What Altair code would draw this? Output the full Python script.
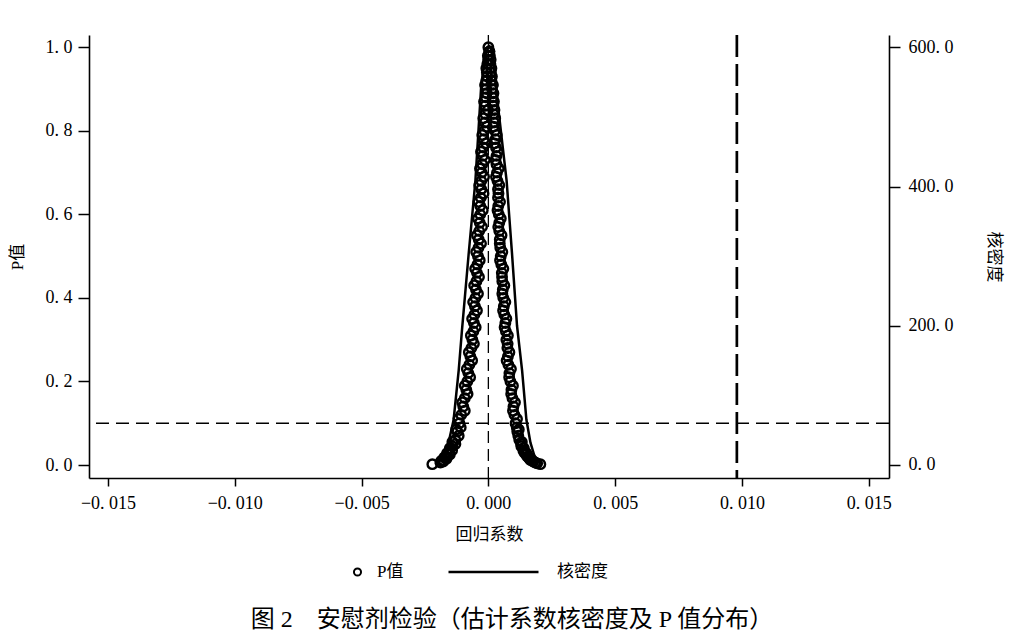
import altair as alt
import pandas as pd

# ---------------- data ----------------
# P-value scatter: left branch (coefficient < 0)
left_p = [1.00, 0.98, 0.96, 0.94, 0.92, 0.90, 0.88, 0.86, 0.84, 0.82, 0.80, 0.78, 0.76, 0.74,
          0.72, 0.70, 0.68, 0.66, 0.64, 0.62, 0.60, 0.58, 0.56, 0.54, 0.52, 0.50, 0.48, 0.46,
          0.44, 0.42, 0.40, 0.38, 0.36, 0.34, 0.32, 0.30, 0.28, 0.26, 0.24, 0.22, 0.20, 0.18,
          0.16, 0.14, 0.12, 0.10, 0.08, 0.06, 0.045, 0.03, 0.02, 0.012, 0.006, 0.002,
          0.97, 0.93, 0.89, 0.85, 0.81, 0.77, 0.73, 0.69, 0.65, 0.61, 0.57, 0.53, 0.49, 0.45,
          0.41, 0.37, 0.33, 0.29, 0.25, 0.21, 0.17, 0.13, 0.09, 0.07, 0.05, 0.035, 0.025,
          0.015, 0.008,
          0.95, 0.91, 0.87, 0.83, 0.79, 0.75, 0.71, 0.67, 0.63, 0.59, 0.55, 0.51, 0.47, 0.43,
          0.39, 0.35, 0.31, 0.27, 0.23, 0.19, 0.15, 0.11, 0.085, 0.055, 0.04, 0.028, 0.018,
          0.010]
left_coef = [0.0, -0.00002, -0.00004, -0.00006, -0.00008, -0.00008, -0.00010, -0.00012,
             -0.00012, -0.00014, -0.00016, -0.00018, -0.00020, -0.00022, -0.00024, -0.00026,
             -0.00028, -0.00028, -0.00030, -0.00032, -0.00032, -0.00034, -0.00036, -0.00038,
             -0.00039, -0.00041, -0.00043, -0.00045, -0.00047, -0.00049, -0.00051, -0.00053,
             -0.00055, -0.00057, -0.00059, -0.00063, -0.00067, -0.00071, -0.00075, -0.00079,
             -0.00083, -0.00087, -0.00093, -0.00099, -0.00107, -0.00114, -0.00122, -0.00130,
             -0.00142, -0.00154, -0.00166, -0.00178, -0.00189, -0.00221,
             -0.00001, -0.00004, -0.00007, -0.00002, -0.00006, -0.00009, -0.00014, -0.00017,
             -0.00019, -0.00022, -0.00025, -0.00029, -0.00034, -0.00037, -0.00041, -0.00045,
             -0.00050, -0.00057, -0.00064, -0.00072, -0.00082, -0.00093, -0.00109, -0.00117,
             -0.00130, -0.00143, -0.00152, -0.00165, -0.00178,
             -0.00008, -0.00013, -0.00017, -0.00020, -0.00024, -0.00029, -0.00033, -0.00036,
             -0.00039, -0.00041, -0.00045, -0.00048, -0.00052, -0.00056, -0.00060, -0.00064,
             -0.00069, -0.00077, -0.00085, -0.00093, -0.00103, -0.00118, -0.00127, -0.00142,
             -0.00152, -0.00163, -0.00174, -0.00186]

# P-value scatter: right branch (coefficient > 0)
right_p = [0.99, 0.98, 0.96, 0.94, 0.92, 0.90, 0.88, 0.86, 0.84, 0.82, 0.80, 0.78, 0.76, 0.74,
           0.72, 0.70, 0.68, 0.66, 0.64, 0.62, 0.60, 0.58, 0.56, 0.54, 0.52, 0.50, 0.48, 0.46,
           0.44, 0.42, 0.40, 0.38, 0.36, 0.34, 0.32, 0.30, 0.28, 0.26, 0.24, 0.22, 0.20, 0.18,
           0.16, 0.14, 0.12, 0.10, 0.08, 0.06, 0.045, 0.03, 0.02, 0.012, 0.006, 0.002,
           0.99, 0.97, 0.93, 0.89, 0.85, 0.81, 0.77, 0.73, 0.69, 0.65, 0.61, 0.57, 0.53, 0.49,
           0.45, 0.41, 0.37, 0.33, 0.29, 0.25, 0.21, 0.17, 0.13, 0.09, 0.07, 0.05, 0.035,
           0.025, 0.015, 0.008, 0.004,
           0.95, 0.91, 0.87, 0.83, 0.79, 0.75, 0.71, 0.67, 0.63, 0.59, 0.55, 0.51, 0.47, 0.43,
           0.39, 0.35, 0.31, 0.27, 0.23, 0.19, 0.15, 0.11, 0.085, 0.055, 0.04, 0.028, 0.018,
           0.010]
right_coef = [0.00004, 0.00006, 0.00008, 0.00010, 0.00012, 0.00014, 0.00016, 0.00018,
              0.00020, 0.00022, 0.00026, 0.00028, 0.00030, 0.00032, 0.00032, 0.00034,
              0.00036, 0.00038, 0.00038, 0.00039, 0.00041, 0.00043, 0.00043, 0.00045,
              0.00047, 0.00049, 0.00051, 0.00053, 0.00055, 0.00057, 0.00059, 0.00061,
              0.00063, 0.00067, 0.00069, 0.00071, 0.00075, 0.00077, 0.00079, 0.00083,
              0.00087, 0.00091, 0.00095, 0.00099, 0.00103, 0.00107, 0.00114, 0.00122,
              0.00130, 0.00142, 0.00154, 0.00166, 0.00185, 0.00205,
              0.00004, 0.00009, 0.00014, 0.00020, 0.00024, 0.00020, 0.00024, 0.00028,
              0.00030, 0.00040, 0.00036, 0.00039, 0.00045, 0.00046, 0.00054, 0.00055,
              0.00058, 0.00064, 0.00076, 0.00072, 0.00082, 0.00090, 0.00097, 0.00112,
              0.00118, 0.00129, 0.00138, 0.00149, 0.00162, 0.00177, 0.00192,
              0.00012, 0.00018, 0.00022, 0.00027, 0.00033, 0.00037, 0.00041, 0.00043,
              0.00046, 0.00049, 0.00052, 0.00055, 0.00059, 0.00063, 0.00067, 0.00071,
              0.00077, 0.00083, 0.00089, 0.00097, 0.00105, 0.00113, 0.00120, 0.00132,
              0.00140, 0.00150, 0.00160, 0.00175]

# kernel density of the placebo coefficients
kd_coef = [-0.00209, -0.00189, -0.00170, -0.00157, -0.00137, -0.00117, -0.00104, -0.00078,
           -0.00051, -0.00028, -0.00010, 0.00002, 0.00015, 0.00041, 0.00072, 0.00093,
           0.00113, 0.00133, 0.00150, 0.00166, 0.00180, 0.00192, 0.00215]
kd_density = [1.5, 10, 22, 32, 65, 136, 194, 302, 409, 546, 590, 602, 595, 506, 408, 305,
              200, 136, 65, 32, 15, 7, 1]

p_threshold = [0.1]
zero_coef = [0.0]
true_coef = [0.0098]

x_ticks = [-0.015, -0.010, -0.005, 0.0, 0.005, 0.010, 0.015]
p_ticks = [0.0, 0.2, 0.4, 0.6, 0.8, 1.0]
d_ticks = [0.0, 200.0, 400.0, 600.0]

# ---------------- tables ----------------
pts = pd.DataFrame({
    "coef": left_coef + right_coef,
    "p": left_p + right_p,
    "series": ["P值"] * (len(left_coef) + len(right_coef)),
})
kd = pd.DataFrame({"coef": kd_coef, "density": kd_density,
                   "series": ["核密度"] * len(kd_coef)})
hline = pd.DataFrame({"p": p_threshold})
vzero = pd.DataFrame({"coef": zero_coef})
vtrue = pd.DataFrame({"coef": true_coef})

FONT = "Liberation Serif, Noto Sans CJK SC"

x_scale = alt.Scale(domain=[-0.01575, 0.0158], nice=False, zero=False)
x_axis = alt.Axis(values=x_ticks, title="回归系数",
                  labelExpr="replace(format(datum.value, '.3f'), '.', '. ')",
                  tickSize=8, labelPadding=8, titlePadding=14)
x_enc = alt.X("coef:Q", scale=x_scale, axis=x_axis)

p_scale = alt.Scale(domain=[-0.0311, 1.0294], nice=False, zero=False)
p_axis = alt.Axis(values=p_ticks, title="P值", orient="left",
                  labelExpr="replace(format(datum.value, '.1f'), '.', '. ')",
                  tickSize=11, labelPadding=6, titleX=-72, titleBaseline="middle")
p_enc = alt.Y("p:Q", scale=p_scale, axis=p_axis)

d_scale = alt.Scale(domain=[-18.7, 617.7], nice=False, zero=False)
d_axis = alt.Axis(values=d_ticks, title="核密度", orient="right",
                  labelExpr="replace(format(datum.value, '.1f'), '.', '. ')",
                  tickSize=11, labelPadding=8, titleX=104, titleAngle=90,
                  titleBaseline="middle")

hrule = alt.Chart(hline).mark_rule(color="black", strokeWidth=1.3,
                                   strokeDash=[13, 7]).encode(y=p_enc)
vrule0 = alt.Chart(vzero).mark_rule(color="black", strokeWidth=1.3,
                                    strokeDash=[12, 6]).encode(x=x_enc)
vrule1 = alt.Chart(vtrue).mark_rule(color="black", strokeWidth=2.7,
                                    strokeDash=[22, 7]).encode(x=x_enc)

points = alt.Chart(pts).mark_point(filled=False, size=90, strokeWidth=2.4,
                                   color="black", opacity=1).encode(
    x=x_enc,
    y=p_enc,
    shape=alt.Shape("series:N",
                    scale=alt.Scale(domain=["P值"], range=["circle"]),
                    legend=alt.Legend(title=None, orient="none", legendX=260, legendY=527,
                                      padding=0, clipHeight=20, symbolSize=50,
                                      symbolStrokeWidth=2, symbolStrokeColor="black",
                                      symbolFillColor="white", labelFontSize=17,
                                      labelFont=FONT, labelOffset=11, labelColor="black")),
)

line = alt.Chart(kd).mark_line(color="black", strokeWidth=2.5).encode(
    x=x_enc,
    y=alt.Y("density:Q", scale=d_scale, axis=d_axis),
    color=alt.Color("series:N",
                    scale=alt.Scale(domain=["核密度"], range=["black"]),
                    legend=alt.Legend(title=None, orient="none", legendX=358, legendY=527,
                                      padding=0, clipHeight=20, symbolType="stroke",
                                      symbolSize=8100, symbolStrokeWidth=2.5,
                                      symbolStrokeColor="black", labelFontSize=17,
                                      labelFont=FONT, labelOffset=17, labelColor="black")),
)

left_layer = alt.layer(hrule, vrule0, vrule1, points)

chart = alt.layer(left_layer, line).resolve_scale(y="independent").properties(
    width=800,
    height=443,
    autosize="none",
    padding={"left": 81, "top": 27, "right": 122, "bottom": 157},
    title=alt.TitleParams(
        text="图 2\u3000安慰剂检验（估计系数核密度及 P 值分布）",
        orient="bottom", anchor="middle", fontSize=24, font=FONT,
        fontWeight="normal", color="black", offset=26, dx=23),
).configure_view(stroke=None).configure_axis(
    grid=False, domainColor="black", domainWidth=1.6, tickColor="black", tickWidth=1.5,
    labelColor="black", titleColor="black", labelFont=FONT, titleFont=FONT,
    labelFontSize=18, titleFontSize=17, titleFontWeight="normal",
)

chart.save("out.html", embed_options={"renderer": "svg", "actions": False})
